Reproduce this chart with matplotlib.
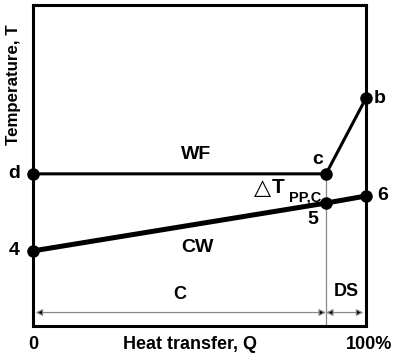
import matplotlib
matplotlib.use("Agg")
import matplotlib.pyplot as plt

plt.rcParams.update({
    "font.family": ["Liberation Sans", "DejaVu Sans"],
    "font.weight": "bold",
})

# heat transfer fraction (%) and temperature (arbitrary units)
q_pinch = 88.0
wf_q = [0, q_pinch, 100]       # d -> c -> b
wf_t = [47.4, 47.4, 71.0]
cw_q = [0, q_pinch, 100]       # 4 -> 5 -> 6
cw_t = [23.4, 38.3, 40.5]
arrow_y = 4.2

fig = plt.figure(figsize=(3.93, 3.6), dpi=100)
ax = fig.add_axes([33 / 393, 34 / 360, 333 / 393, 321 / 360])
ax.set_xlim(0, 100)
ax.set_ylim(0, 100)
ax.set_xticks([])
ax.set_yticks([])
for s in ax.spines.values():
    s.set_linewidth(2.2)
    s.set_zorder(5)

# pinch line and section arrows
grey = "#888888"
ax.plot([q_pinch, q_pinch], [0, wf_t[1]], color=grey, lw=0.9, zorder=1)
arr = dict(arrowstyle="<|-|>", lw=0.9, mutation_scale=10,
           shrinkA=0, shrinkB=0, fc="black", ec=grey)
ax.annotate("", xy=(0.8, arrow_y), xytext=(q_pinch, arrow_y), arrowprops=arr)
ax.annotate("", xy=(q_pinch, arrow_y), xytext=(99.2, arrow_y), arrowprops=arr)

# working fluid and cooling water lines
ax.plot(wf_q, wf_t, color="black", lw=2.2, zorder=3)
ax.plot(cw_q, cw_t, color="black", lw=3.6, zorder=3)
ax.plot(wf_q, wf_t, "o", color="black", ms=8, zorder=6, clip_on=False)
ax.plot(cw_q, cw_t, "o", color="black", ms=8, zorder=6, clip_on=False)

# point labels
big = 14
ax.text(-5.7, wf_t[0], "d", fontsize=big, ha="center", va="center")
ax.text(104.0, wf_t[2], "b", fontsize=big, ha="center", va="center")
ax.text(-5.6, cw_t[0], "4", fontsize=big, ha="center", va="center")
ax.text(105.1, cw_t[2], "6", fontsize=big, ha="center", va="center")
ax.text(84.1, 33.2, "5", fontsize=big, ha="center", va="center")
ax.text(85.6, 52.0, "c", fontsize=big, ha="center", va="center")
ax.text(48.9, 53.3, "WF", fontsize=big, ha="center", va="center")
ax.text(49.5, 24.6, "CW", fontsize=big, ha="center", va="center")

# pinch temperature difference label
ax.text(66.4, 43.1, "\u25b3", fontsize=16, fontweight="normal",
        family="DejaVu Sans", ha="left", va="center")
ax.text(71.8, 43.1, "T", fontsize=15, ha="left", va="center")
ax.text(77.0, 40.0, "PP,C", fontsize=10.5, ha="left", va="center")

ax.text(44.1, 9.7, "C", fontsize=13, ha="center", va="center")
ax.text(94.0, 10.6, "DS", fontsize=13, ha="center", va="center")

# axis labels
ax.text(0, -5.9, "0", fontsize=13, ha="center", va="center")
ax.text(100.9, -5.9, "100%", fontsize=13, ha="center", va="center")
ax.text(47.1, -5.9, "Heat transfer, Q", fontsize=13, ha="center", va="center")
ax.text(-6.0, 75.1, "Temperature, T", fontsize=12.2, ha="center", va="center",
        rotation=90)

fig.savefig("out.png", dpi=100)
